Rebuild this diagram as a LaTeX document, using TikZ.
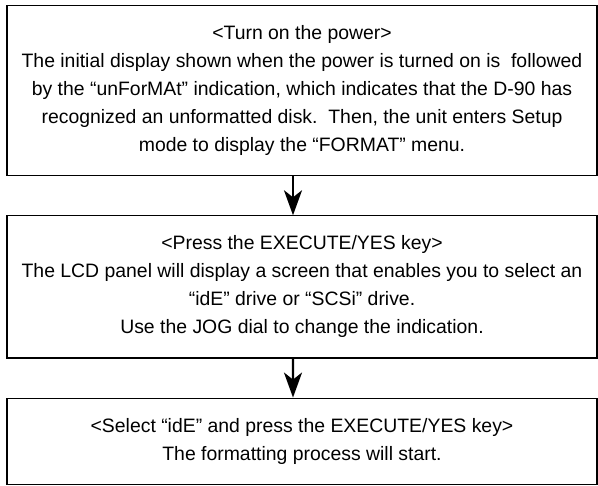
\documentclass[tikz,border=0pt]{standalone}
\usepackage{fontspec}
\setmainfont{Liberation Sans}
\usetikzlibrary{arrows.meta}

\begin{document}
\begin{tikzpicture}[
    x=1pt, y=1pt,
    edge from parent/.style={draw, line width=2.4pt,
        -{Stealth[length=25pt, width=18pt, inset=7pt]}},
    edge from parent path={([xshift=-9pt]\tikzparentnode.south)
        -- ([xshift=-9pt]\tikzchildnode.north)},
    stepbox/.style={rectangle, draw, line width=1.2pt, minimum width=590pt,
        inner xsep=0pt, inner ysep=20pt, align=center, anchor=north,
        font=\fontsize{19.4}{28}\selectfont},
    level distance=39pt, growth parent anchor=south
]
\useasboundingbox (0,0) rectangle (598,-486);
\node (power) [stepbox] at (302,-5) {<Turn on the power>\\
    The initial display shown when the power is turned on is\ \ followed\\
    by the ``unForMAt'' indication, which indicates that the D-90 has\\
    recognized an unformatted disk.\ \ Then, the unit enters Setup\\
    mode to display the ``FORMAT'' menu.}
  child {
    node (execute) [stepbox] {<Press the EXECUTE/YES key>\\
      The LCD panel will display a screen that enables you to select an\\
      ``idE'' drive or ``SCSi'' drive.\\
      Use the JOG dial to change the indication.}
    child {
      node (select) [stepbox] {<Select ``idE'' and press the EXECUTE/YES key>\\
        The formatting process will start.}
    }
  }
;
\end{tikzpicture}
\end{document}
